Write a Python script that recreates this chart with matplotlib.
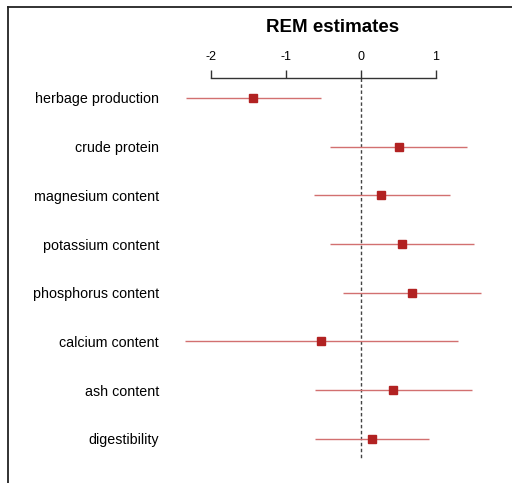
import matplotlib
matplotlib.use("Agg")
import matplotlib.pyplot as plt
from matplotlib.lines import Line2D

plt.rcParams['font.family'] = ['Liberation Sans', 'DejaVu Sans']

categories = ["herbage production", "crude protein", "magnesium content",
              "potassium content", "phosphorus content", "calcium content",
              "ash content", "digestibility"]
estimates = [-1.44, 0.50, 0.27, 0.54, 0.68, -0.53, 0.43, 0.14]
ci_low = [-2.33, -0.41, -0.63, -0.41, -0.24, -2.35, -0.62, -0.61]
ci_high = [-0.53, 1.41, 1.18, 1.50, 1.60, 1.29, 1.48, 0.91]
xticks = [-2, -1, 0, 1]

W, H = 512, 483
fig = plt.figure(figsize=(W / 100, H / 100), dpi=100)

# axes placement in pixels
left_px, right_px, top_px, bottom_px = 170, 500, 78, 470
ax = fig.add_axes([left_px / W, 1 - bottom_px / H,
                   (right_px - left_px) / W, (bottom_px - top_px) / H])

px_per_unit = 75.0
zero_px = 361.0
ax.set_xlim((left_px - zero_px) / px_per_unit, (right_px - zero_px) / px_per_unit)
row0_px, row_step = 98.0, 48.67
ax.set_ylim((bottom_px - row0_px) / row_step, (top_px - row0_px) / row_step)

ys = list(range(len(categories)))
for y, lo, hi, est in zip(ys, ci_low, ci_high, estimates):
    ax.plot([lo, hi], [y, y], color='#d27070', lw=1.0, solid_capstyle='butt', zorder=2)
    ax.plot([est], [y], marker='s', ms=6, color='#b22222', mec='#b22222', zorder=3)

# zero reference line
y_end = (459 - row0_px) / row_step
ax.plot([0, 0], [(top_px - row0_px) / row_step, y_end], color='#444444', lw=1.0,
        ls=(0, (2.5, 1.8)), zorder=1, clip_on=False)

for s in ['left', 'right', 'bottom']:
    ax.spines[s].set_visible(False)
ax.spines['top'].set_bounds(xticks[0], xticks[-1])
ax.spines['top'].set_color('#333333')
ax.spines['top'].set_linewidth(1.0)
ax.xaxis.tick_top()
ax.set_xticks(xticks)
ax.set_xticklabels([str(t) for t in xticks])
ax.tick_params(axis='x', direction='out', length=6, width=1.0, color='#333333',
               labelsize=9, pad=5)
ax.set_yticks(ys)
ax.set_yticklabels(categories)
ax.tick_params(axis='y', length=0, labelsize=10.3, pad=8)

fig.text(333 / W, 1 - 28 / H, "REM estimates", ha='center', va='center',
         fontsize=13.5, fontweight='bold')

# screenshot frame (top and left edges)
fig.add_artist(Line2D([8 / W, 1], [1 - 6.5 / H, 1 - 6.5 / H], color='#222222', lw=1.3,
                      transform=fig.transFigure))
fig.add_artist(Line2D([8 / W, 8 / W], [0, 1 - 6.5 / H], color='#222222', lw=1.3,
                      transform=fig.transFigure))

fig.savefig("out.png", dpi=100)
